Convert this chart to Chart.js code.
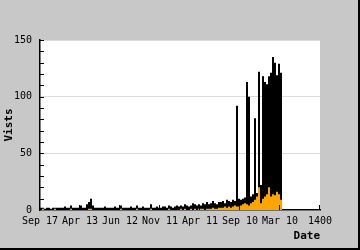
<!DOCTYPE html>
<html>
<head>
<meta charset="utf-8">
<script src="https://cdn.jsdelivr.net/npm/chart.js@4/dist/chart.umd.min.js"></script>
<style>
  html, body { margin: 0; padding: 0; background: #c8c8c8; }
  #wrap { width: 360px; height: 250px; }
</style>
</head>
<body>
<div id="wrap"><canvas id="visitsChart" width="360" height="250"></canvas></div>
<script>
// one value per 10-day bin
var binSize = 10;
var totalVisits = [
  2, 2, 1, 2, 2, 1, 2, 2, 2, 2,
  2, 2, 3, 2, 2, 4, 2, 2, 2, 2,
  4, 2, 2, 5, 7, 10, 4, 2, 2, 2,
  2, 2, 3, 2, 2, 2, 2, 3, 2, 2,
  4, 2, 2, 2, 2, 3, 2, 2, 4, 2,
  2, 3, 2, 2, 2, 5, 2, 2, 3, 2,
  2, 3, 3, 2, 4, 3, 2, 3, 4, 3,
  4, 3, 5, 4, 3, 4, 6, 5, 4, 5,
  4, 6, 5, 7, 5, 6, 8, 6, 5, 7,
  7, 8, 6, 9, 8, 7, 9, 8, 92, 10,
  9, 10, 11, 113, 100, 12, 14, 81, 15, 122,
  22, 118, 113, 111, 118, 121, 135, 130, 119, 129, 121
];
var uniqueVisits = [
  0, 1, 0, 0, 0, 0, 0, 1, 0, 0,
  0, 0, 0, 0, 0, 1, 0, 0, 0, 0,
  0, 0, 0, 0, 1, 1, 0, 0, 0, 0,
  0, 0, 0, 0, 0, 0, 0, 0, 0, 0,
  1, 0, 0, 0, 0, 0, 0, 0, 1, 0,
  0, 0, 0, 0, 0, 1, 0, 0, 0, 0,
  0, 0, 0, 0, 1, 0, 0, 0, 0, 0,
  1, 0, 1, 0, 0, 1, 0, 1, 0, 1,
  1, 1, 0, 1, 1, 1, 2, 1, 1, 2,
  2, 2, 3, 2, 3, 2, 3, 4, 3, 3,
  4, 5, 6, 5, 4, 6, 7, 9, 12, 20,
  6, 10, 12, 14, 20, 12, 14, 13, 16, 14, 9
];
var xTickLabels = ['Sep 17', 'Apr 13', 'Jun 12', 'Nov 11', 'Apr 11', 'Sep 10', 'Mar 10', '1400'];

function toSteps(values) {
  var pts = [];
  values.forEach(function(v, i) {
    pts.push({x: i * binSize, y: v});
    pts.push({x: (i + 1) * binSize, y: v});
  });
  return pts;
}

var mono = 'DejaVu Sans Mono';

var frame = {
  id: 'frame',
  beforeDraw: function(chart) {
    var c = chart.ctx, a = chart.chartArea;
    c.save();
    c.fillStyle = '#c8c8c8';
    c.fillRect(0, 0, chart.width, chart.height);
    c.fillStyle = '#ffffff';
    c.fillRect(a.left, a.top, a.right - a.left, a.bottom - a.top);
    c.restore();
  },
  afterDraw: function(chart) {
    var c = chart.ctx, a = chart.chartArea;
    var ys = chart.scales.y, xs = chart.scales.x;
    c.save();
    c.strokeStyle = '#000';
    c.lineWidth = 1;
    c.beginPath();
    for (var v = 10; v <= 150; v += 10) {
      var py = Math.round(ys.getPixelForValue(v)) + 0.5;
      c.moveTo(a.left, py);
      c.lineTo(a.left + 4, py);
    }
    for (var t = 200; t <= 1400; t += 200) {
      var px = Math.round(xs.getPixelForValue(t)) - 0.5;
      c.moveTo(px, a.bottom);
      c.lineTo(px, a.bottom - 5);
    }
    c.stroke();
    c.lineWidth = 2;
    c.beginPath();
    c.moveTo(chart.width - 1, 0);
    c.lineTo(chart.width - 1, chart.height - 1);
    c.lineTo(0, chart.height - 1);
    c.stroke();
    c.restore();
  }
};

var ctx = document.getElementById('visitsChart').getContext('2d');
var visitsChart = new Chart(ctx, {
  type: 'line',
  data: {
    datasets: [{
      label: 'Unique',
      data: toSteps(uniqueVisits),
      borderWidth: 0,
      pointRadius: 0,
      backgroundColor: '#ffa500',
      fill: 'origin'
    }, {
      label: 'Visits',
      data: toSteps(totalVisits),
      borderWidth: 0,
      pointRadius: 0,
      backgroundColor: '#000000',
      fill: 'origin'
    }]
  },
  options: {
    responsive: false,
    devicePixelRatio: 1,
    animation: false,
    layout: { padding: { left: 0, top: 40, right: 40, bottom: 0 } },
    plugins: { legend: { display: false }, tooltip: { enabled: false } },
    scales: {
      x: {
        type: 'linear',
        min: 0,
        max: 1400,
        afterFit: function(s) { s.height = 40; },
        grid: { display: false, drawTicks: false },
        border: { color: '#000', width: 1.5 },
        ticks: {
          stepSize: 200,
          padding: 5,
          maxRotation: 0,
          autoSkip: false,
          color: '#000',
          font: { family: mono, size: 10 },
          callback: function(value) { return xTickLabels[value / 200]; }
        },
        title: {
          display: true,
          text: 'Date',
          align: 'end',
          color: '#000',
          padding: { top: 7, bottom: 7 },
          font: { family: mono, size: 11, weight: 'bold' }
        }
      },
      y: {
        min: 0,
        max: 150,
        afterFit: function(s) { s.width = 40; },
        grid: { color: '#dcdcdc', drawTicks: false },
        border: { color: '#000', width: 1.5 },
        ticks: {
          stepSize: 50,
          padding: 8,
          color: '#000',
          font: { family: mono, size: 10 }
        },
        title: {
          display: true,
          text: 'Vists',
          color: '#000',
          padding: { top: 3, bottom: 0 },
          font: { family: mono, size: 11, weight: 'bold' }
        }
      }
    }
  },
  plugins: [frame]
});
</script>
</body>
</html>
